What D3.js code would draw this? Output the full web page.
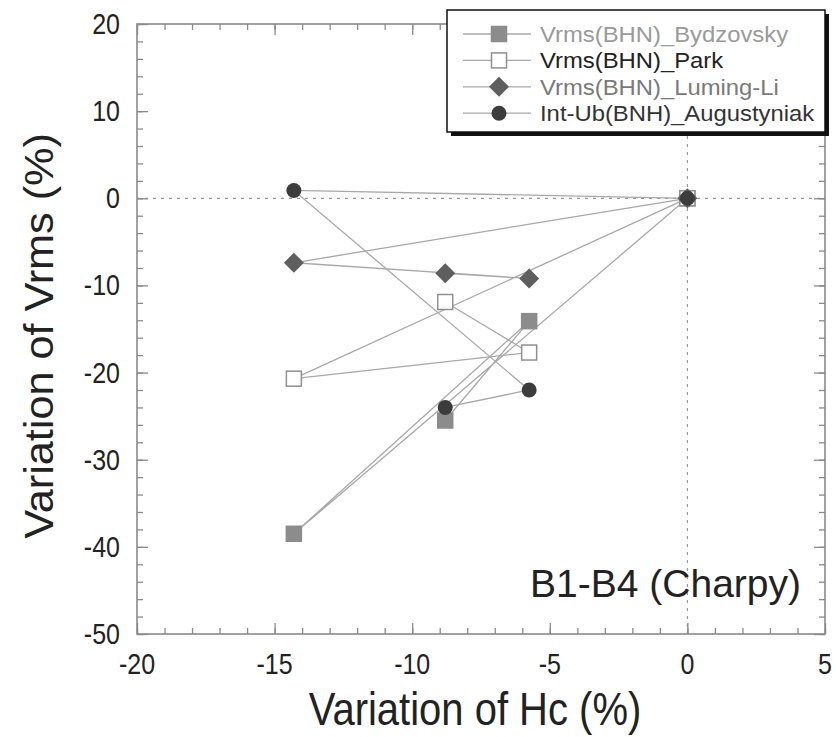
<!DOCTYPE html>
<html>
<head>
<meta charset="utf-8">
<script src="https://cdn.jsdelivr.net/npm/d3@7"></script>
<style>
  body { margin: 0; background: #fff; }
  text { font-family: "Liberation Sans", Arial, sans-serif; }
</style>
</head>
<body>
<div id="chart"></div>
<script>
// Hc variation for B1..B4 (same for every series), order of the measurements
const hcVariation = [0, -14.3, -5.75, -8.8];

const bydzovsky   = [0, -38.5, -14.1, -25.5];
const park        = [0, -20.7, -17.7, -11.9];
const lumingLi    = [0, -7.4, -9.2, -8.6];
const augustyniak = [0, 0.9, -22.0, -24.0];

const seriesNames = ["Vrms(BHN)_Bydzovsky", "Vrms(BHN)_Park", "Vrms(BHN)_Luming-Li", "Int-Ub(BNH)_Augustyniak"];
const xTicks = [-20, -15, -10, -5, 0, 5];
const yTicks = [-50, -40, -30, -20, -10, 0, 10, 20];

const W = 836, H = 737;
const margin = {top: 24, right: 11, bottom: 103, left: 137};
const width = W - margin.left - margin.right;
const height = H - margin.top - margin.bottom;
const sy = 1.15; // text in the picture is a bit stretched vertically

const svg = d3.select("#chart").append("svg")
  .attr("width", W)
  .attr("height", H);

const g = svg.append("g")
  .attr("transform", "translate(" + margin.left + "," + margin.top + ")");

const x = d3.scaleLinear().domain([-20, 5]).range([0, width]);
const y = d3.scaleLinear().domain([-50, 20]).range([height, 0]);

// dashed zero lines
g.append("line")
  .attr("x1", 0).attr("x2", width)
  .attr("y1", y(0)).attr("y2", y(0))
  .attr("stroke", "#999").attr("stroke-width", 1.2)
  .attr("stroke-dasharray", "3,5");
g.append("line")
  .attr("x1", x(0)).attr("x2", x(0))
  .attr("y1", 0).attr("y2", height)
  .attr("stroke", "#999").attr("stroke-width", 1.2)
  .attr("stroke-dasharray", "3,5");

// ticks on all four sides, pointing inward
const axisColor = "#8a8a8a";
function styleAxis(sel) {
  sel.select(".domain").remove();
  sel.selectAll("line").attr("stroke", axisColor).attr("stroke-width", 1.3);
}
const xMinor = d3.range(-20, 5.01, 1);
const yMinor = d3.range(-50, 20.01, 2);

g.append("g").attr("transform", "translate(0," + height + ")")
  .call(d3.axisBottom(x).tickValues(xMinor).tickSize(-6).tickFormat(""))
  .call(styleAxis);
g.append("g").attr("transform", "translate(0," + height + ")")
  .call(d3.axisBottom(x).tickValues(xTicks).tickSize(-11).tickFormat(""))
  .call(styleAxis);
g.append("g")
  .call(d3.axisTop(x).tickValues(xMinor).tickSize(-6).tickFormat(""))
  .call(styleAxis);
g.append("g")
  .call(d3.axisTop(x).tickValues(xTicks).tickSize(-11).tickFormat(""))
  .call(styleAxis);
g.append("g")
  .call(d3.axisLeft(y).tickValues(yMinor).tickSize(-6).tickFormat(""))
  .call(styleAxis);
g.append("g")
  .call(d3.axisLeft(y).tickValues(yTicks).tickSize(-11).tickFormat(""))
  .call(styleAxis);
g.append("g").attr("transform", "translate(" + width + ",0)")
  .call(d3.axisRight(y).tickValues(yMinor).tickSize(-6).tickFormat(""))
  .call(styleAxis);
g.append("g").attr("transform", "translate(" + width + ",0)")
  .call(d3.axisRight(y).tickValues(yTicks).tickSize(-11).tickFormat(""))
  .call(styleAxis);

// frame
g.append("rect")
  .attr("width", width).attr("height", height)
  .attr("fill", "none")
  .attr("stroke", axisColor).attr("stroke-width", 1.6);

// tick labels
g.selectAll(".xlab").data(xTicks).enter().append("text")
  .attr("transform", d => "translate(" + x(d) + "," + (height + 40) + ") scale(1," + sy + ")")
  .attr("text-anchor", "middle")
  .style("font-size", "25px")
  .attr("fill", "#222")
  .text(d => d);

g.selectAll(".ylab").data(yTicks).enter().append("text")
  .attr("transform", d => "translate(-17," + (y(d) + 10) + ") scale(1," + sy + ")")
  .attr("text-anchor", "end")
  .style("font-size", "25px")
  .attr("fill", "#222")
  .text(d => d);

// axis titles
svg.append("text")
  .attr("transform", "translate(" + (margin.left + x(-7.5) - 6) + ",725) scale(1," + sy + ")")
  .attr("text-anchor", "middle")
  .style("font-size", "40px")
  .attr("fill", "#222")
  .text("Variation of Hc (%)");

svg.append("text")
  .attr("transform", "translate(53," + (margin.top + y(-15) + 7) + ") rotate(-90) scale(1.08,1)")
  .attr("text-anchor", "middle")
  .style("font-size", "40px")
  .attr("fill", "#222")
  .text("Variation of Vrms (%)");

// annotation
g.append("text")
  .attr("x", width - 24)
  .attr("y", y(-45.7))
  .attr("text-anchor", "end")
  .style("font-size", "39px")
  .attr("fill", "#222")
  .text("B1-B4 (Charpy)");

// series
const series = [
  {name: seriesNames[0], values: bydzovsky,   shape: "square",  fill: "#8c8c8c", stroke: "#8c8c8c", text: "#9a9a9a"},
  {name: seriesNames[1], values: park,        shape: "square",  fill: "#fff",    stroke: "#909090", text: "#222"},
  {name: seriesNames[2], values: lumingLi,    shape: "diamond", fill: "#5e5e5e", stroke: "#5e5e5e", text: "#7a7a7a"},
  {name: seriesNames[3], values: augustyniak, shape: "circle",  fill: "#3c3c3c", stroke: "#3c3c3c", text: "#333"}
];

function drawMarker(sel, s) {
  if (s.shape === "square") {
    sel.append("rect")
      .attr("x", -7.5).attr("y", -7.5).attr("width", 15).attr("height", 15)
      .attr("fill", s.fill).attr("stroke", s.stroke).attr("stroke-width", 1.5);
  } else if (s.shape === "diamond") {
    sel.append("path")
      .attr("d", "M0,-10L10,0L0,10L-10,0Z")
      .attr("fill", s.fill);
  } else {
    sel.append("circle")
      .attr("r", 7.5)
      .attr("fill", s.fill);
  }
}

const line = d3.line()
  .x(d => x(d[0]))
  .y(d => y(d[1]));

series.forEach(s => {
  const pts = hcVariation.map((h, i) => [h, s.values[i]]);
  g.append("path")
    .datum(pts)
    .attr("d", line)
    .attr("fill", "none")
    .attr("stroke", "#a8a8a8")
    .attr("stroke-width", 1.3);
});

series.forEach(s => {
  const pts = hcVariation.map((h, i) => [h, s.values[i]]);
  g.selectAll(null).data(pts).enter().append("g")
    .attr("transform", d => "translate(" + x(d[0]) + "," + y(d[1]) + ")")
    .each(function() { drawMarker(d3.select(this), s); });
});

// legend
const legend = svg.append("g").attr("transform", "translate(447,10)");
const lw = 378, lh = 122;
legend.append("rect")
  .attr("x", 4).attr("y", 4).attr("width", lw).attr("height", lh)
  .attr("fill", "#111");
legend.append("rect")
  .attr("width", lw).attr("height", lh)
  .attr("fill", "#fff")
  .attr("stroke", "#111").attr("stroke-width", 1.5);

const legendG = legend.selectAll(".legend")
  .data(series)
  .enter().append("g")
  .attr("transform", (d, i) => "translate(0," + (24 + i * 26.4) + ")");

legendG.append("line")
  .attr("x1", 16).attr("x2", 84)
  .attr("stroke", "#a8a8a8").attr("stroke-width", 1.3);

legendG.each(function(d) {
  const m = d3.select(this).append("g").attr("transform", "translate(52,0)");
  drawMarker(m, d);
});

legendG.append("text")
  .attr("transform", "translate(93,8) scale(1.06,1)")
  .style("font-size", "22.5px")
  .attr("fill", d => d.text)
  .text(d => d.name);
</script>
</body>
</html>
